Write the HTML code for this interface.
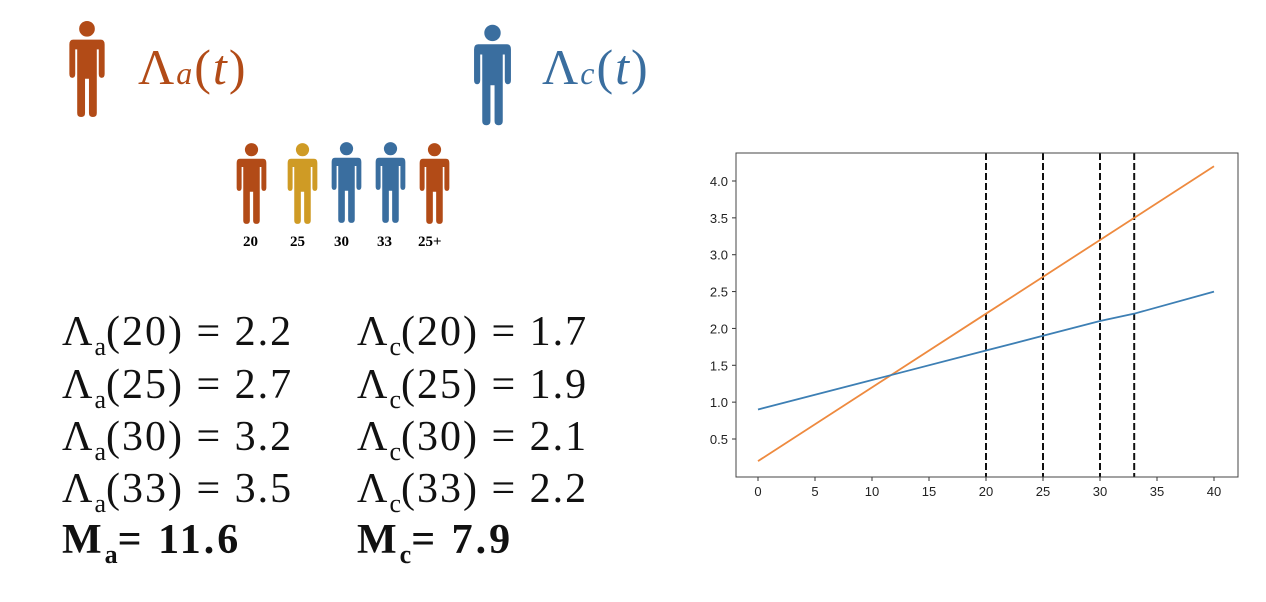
<!DOCTYPE html>
<html><head><meta charset="utf-8"><style>
body{margin:0;width:1266px;height:602px;background:#fff;overflow:hidden;position:relative;font-family:"Liberation Serif",serif}
.t{position:absolute;white-space:nowrap}
.eq{position:absolute;font-size:42px;letter-spacing:2px;color:#111;line-height:1;white-space:nowrap}
.eq sub{font-size:26px;vertical-align:-10px;line-height:0;letter-spacing:0}
.lab{position:absolute;font-size:15px;font-weight:bold;top:234px}
</style></head><body>
<svg width="0" height="0" style="position:absolute"><defs>
<symbol id="person" viewBox="0 0 40 100">
<circle cx="20" cy="9" r="8"/>
<path d="M6 20 Q2 20 2 25 L2 55 Q2 59 5 59 Q8 59 8 55 L8 30 L10 30 L10 95 Q10 99 14 99 Q18 99 18 95 L18 60 L22 60 L22 95 Q22 99 26 99 Q30 99 30 95 L30 30 L32 30 L32 55 Q32 59 35 59 Q38 59 38 55 L38 25 Q38 20 34 20 Z"/>
</symbol></defs></svg>

<svg style="position:absolute;left:67px;top:20px" width="40" height="98" fill="#b24b17"><use href="#person"/></svg>
<div class="t" style="left:138px;top:38px;font-size:50px;letter-spacing:2px;color:#b24b17">Λ<i style="font-size:32px">a</i>(<i>t</i>)</div>
<svg style="position:absolute;left:472px;top:23px" width="41" height="104" fill="#3a6e9f"><use href="#person"/></svg>
<div class="t" style="left:542px;top:38px;font-size:50px;letter-spacing:2px;color:#3a6e9f">Λ<i style="font-size:32px">c</i>(<i>t</i>)</div>

<svg style="position:absolute;left:235px;top:142px" width="33" height="83" fill="#b24b17"><use href="#person"/></svg>
<svg style="position:absolute;left:286px;top:142px" width="33" height="83" fill="#cf9b25"><use href="#person"/></svg>
<svg style="position:absolute;left:330px;top:140px" width="33" height="85" fill="#3a6e9f"><use href="#person"/></svg>
<svg style="position:absolute;left:374px;top:140px" width="33" height="85" fill="#3a6e9f"><use href="#person"/></svg>
<svg style="position:absolute;left:418px;top:142px" width="33" height="83" fill="#b24b17"><use href="#person"/></svg>
<div class="t lab" style="left:243px">20</div>
<div class="t lab" style="left:290px">25</div>
<div class="t lab" style="left:334px">30</div>
<div class="t lab" style="left:377px">33</div>
<div class="t lab" style="left:418px">25+</div>

<div class="eq" style="left:62px;top:311px">Λ<sub>a</sub>(20) = 2.2</div>
<div class="eq" style="left:62px;top:364px">Λ<sub>a</sub>(25) = 2.7</div>
<div class="eq" style="left:62px;top:416px">Λ<sub>a</sub>(30) = 3.2</div>
<div class="eq" style="left:62px;top:468px">Λ<sub>a</sub>(33) = 3.5</div>
<div class="eq" style="left:62px;top:519px;font-weight:bold;letter-spacing:3px">M<sub>a</sub>= 11.6</div>
<div class="eq" style="left:357px;top:311px">Λ<sub>c</sub>(20) = 1.7</div>
<div class="eq" style="left:357px;top:364px">Λ<sub>c</sub>(25) = 1.9</div>
<div class="eq" style="left:357px;top:416px">Λ<sub>c</sub>(30) = 2.1</div>
<div class="eq" style="left:357px;top:468px">Λ<sub>c</sub>(33) = 2.2</div>
<div class="eq" style="left:357px;top:519px;font-weight:bold;letter-spacing:3px">M<sub>c</sub>= 7.9</div>

<svg id="chart" style="position:absolute;left:0;top:0" width="1266" height="602" font-family="Liberation Sans, sans-serif" font-size="13" fill="#222"></svg>
<script>
const xTicks=[0,5,10,15,20,25,30,35,40];
const yTicks=[0.5,1.0,1.5,2.0,2.5,3.0,3.5,4.0];
const xs=[0,20,25,30,33,40];
const seriesA=[0.2,2.2,2.7,3.2,3.5,4.2];
const seriesC=[0.9,1.7,1.9,2.1,2.2,2.5];
const vlines=[20,25,30,33];
const L=736,R=1238,T=153,B=477;
const X=v=>758+(v-0)*(1214-758)/40;
const Y=v=>439-(v-0.5)*(439-181)/3.5;
const svg=document.getElementById('chart');
const NS='http://www.w3.org/2000/svg';
function mk(tag,attrs){const e=document.createElementNS(NS,tag);for(const k in attrs)e.setAttribute(k,attrs[k]);svg.appendChild(e);return e;}
xTicks.forEach(t=>{
 const l=mk('line',{x1:X(t),x2:X(t),y1:B,y2:B+4,stroke:'#333'});
 
 
 const tx=mk('text',{x:X(t),y:B+19,'text-anchor':'middle'});tx.textContent=t;
 
 
});
yTicks.forEach(t=>{
 const l=mk('line',{x1:L-4,x2:L,y1:Y(t),y2:Y(t),stroke:'#333'});
 
 
 const tx=mk('text',{x:L-8,y:Y(t)+5,'text-anchor':'end'});tx.textContent=t.toFixed(1);
 
 
});
vlines.forEach(v=>{
 const l=mk('line',{x1:X(v),x2:X(v),y1:T,y2:B,stroke:'#111','stroke-width':2,'stroke-dasharray':'7,3'});
 
 
});
const pa=mk('polyline',{points:xs.map((x,i)=>X(x)+','+Y(seriesA[i])).join(' '),fill:'none',stroke:'#ee8a3f','stroke-width':1.8});


const pc=mk('polyline',{points:xs.map((x,i)=>X(x)+','+Y(seriesC[i])).join(' '),fill:'none',stroke:'#3d7fb4','stroke-width':1.8});


const fr=mk('rect',{x:L,y:T,width:R-L,height:B-T,fill:'none',stroke:'#444','stroke-width':1});


</script>
</body></html>
